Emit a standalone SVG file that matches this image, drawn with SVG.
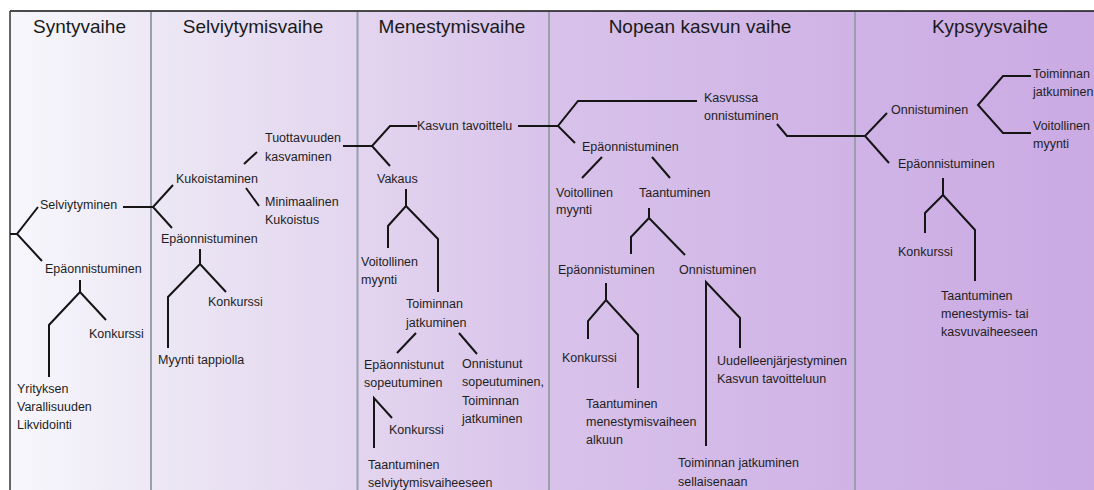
<svg xmlns="http://www.w3.org/2000/svg" width="1094" height="490" viewBox="0 0 1094 490">
<defs>
<linearGradient id="bg" x1="10" y1="0" x2="1094" y2="0" gradientUnits="userSpaceOnUse">
<stop offset="0" stop-color="#f8f7fc"/>
<stop offset="0.13" stop-color="#ece8f5"/>
<stop offset="0.32" stop-color="#e3d5ef"/>
<stop offset="0.50" stop-color="#d8c2ea"/>
<stop offset="0.78" stop-color="#cfb3e6"/>
<stop offset="1" stop-color="#cbaae3"/>
</linearGradient>
<style>
.t{font-family:"Liberation Sans",Arial,sans-serif;font-size:19px;fill:#1a1a1a;text-anchor:middle}
.l{font-family:"Liberation Sans",Arial,sans-serif;font-size:12.5px;fill:#1e1e1e}
.c{fill:none;stroke:#151515;stroke-width:2;stroke-linejoin:miter}
.d{stroke:#9a9fab;stroke-width:2}
</style>
</defs>
<rect width="1094" height="490" fill="#ffffff"/>
<rect x="10" y="11" width="1084" height="479" fill="url(#bg)"/>
<g id="frame">
<line x1="10" y1="11" x2="1094" y2="11" stroke="#111" stroke-width="1.5"/>
<line x1="10" y1="11" x2="10" y2="490" stroke="#333" stroke-width="1.5"/>
<line class="d" x1="151" y1="12" x2="151" y2="490"/>
<line class="d" x1="357.5" y1="12" x2="357.5" y2="490"/>
<line class="d" x1="549" y1="12" x2="549" y2="490"/>
<line class="d" x1="855" y1="12" x2="855" y2="490"/>
</g>
<g id="titles">
<text class="t" x="79.5" y="33">Syntyvaihe</text>
<text class="t" x="253" y="33">Selviytymisvaihe</text>
<text class="t" x="452" y="33">Menestymisvaihe</text>
<text class="t" x="700" y="33">Nopean kasvun vaihe</text>
<text class="t" x="990" y="33">Kypsyysvaihe</text>
</g>
<g id="connectors" class="c">
<path class="c" d="M10,234 H17 M38,207 L17,234 L42,261"/>
<path class="c" d="M123,207 H153 M173,185 L153,207 L172,228"/>
<path class="c" d="M80,280 V292 M49,377 V325 L80,292 L106,320"/>
<path class="c" d="M244,164 L257,152 M246,188 L259,206"/>
<path class="c" d="M200,249 V264 M168,348 V297 L200,264 L226,292"/>
<path class="c" d="M343,146 H372 M390,166 L372,146 L390,126 H417"/>
<path class="c" d="M518,126 H558 M575,143 L558,126 L578,101 H697"/>
<path class="c" d="M406,189 V206 M388,248 V226 L406,206 L438,239 V292"/>
<path class="c" d="M416,333 L397,353 M459,333 L477,354"/>
<path class="c" d="M392,418 L374,398 V448"/>
<path class="c" d="M777,124 L787,136 H865 M887,113 L865,136 L889,163"/>
<path class="c" d="M602,157 L582,178 M652,157 L670,178"/>
<path class="c" d="M649,208 V218 M631,254 V237 L649,218 L685,255"/>
<path class="c" d="M606,283 V300 M588,339 V321 L606,300 L638,335 V388"/>
<path class="c" d="M706,446 V282 L740,318 V348"/>
<path class="c" d="M1031,76 H1003 L978,105 L1003,133 H1031"/>
<path class="c" d="M943,178 V195 M925,233 V213 L943,195 L975,230 V281"/>
</g>
<g id="n-selviytyminen"><text class="l" x="40" y="209">Selviytyminen</text></g>
<g id="n-synty-epaonnistuminen"><text class="l" x="45" y="273">Epäonnistuminen</text></g>
<g id="n-synty-konkurssi"><text class="l" x="89" y="338">Konkurssi</text></g>
<g id="n-likvidointi"><text class="l" x="17" y="393">Yrityksen</text><text class="l" x="17" y="411">Varallisuuden</text><text class="l" x="17" y="429">Likvidointi</text></g>
<g id="n-kukoistaminen"><text class="l" x="176" y="183">Kukoistaminen</text></g>
<g id="n-tuottavuus"><text class="l" x="265" y="142">Tuottavuuden</text><text class="l" x="265" y="161">kasvaminen</text></g>
<g id="n-minimaalinen"><text class="l" x="265" y="206">Minimaalinen</text><text class="l" x="265" y="224">Kukoistus</text></g>
<g id="n-selv-epaonnistuminen"><text class="l" x="161" y="243">Epäonnistuminen</text></g>
<g id="n-selv-konkurssi"><text class="l" x="208" y="306">Konkurssi</text></g>
<g id="n-myynti-tappiolla"><text class="l" x="158" y="364">Myynti tappiolla</text></g>
<g id="n-kasvun-tavoittelu"><text class="l" x="417" y="130">Kasvun tavoittelu</text></g>
<g id="n-vakaus"><text class="l" x="377" y="183">Vakaus</text></g>
<g id="n-men-voitollinen"><text class="l" x="361" y="266">Voitollinen</text><text class="l" x="361" y="284">myynti</text></g>
<g id="n-men-toiminnan"><text class="l" x="406" y="308">Toiminnan</text><text class="l" x="406" y="327">jatkuminen</text></g>
<g id="n-epaonnistunut"><text class="l" x="364" y="369">Epäonnistunut</text><text class="l" x="364" y="387">sopeutuminen</text></g>
<g id="n-onnistunut"><text class="l" x="462" y="368">Onnistunut</text><text class="l" x="462" y="386">sopeutuminen,</text><text class="l" x="462" y="405">Toiminnan</text><text class="l" x="462" y="423">jatkuminen</text></g>
<g id="n-men-konkurssi"><text class="l" x="389" y="434">Konkurssi</text></g>
<g id="n-men-taantuminen"><text class="l" x="368" y="469">Taantuminen</text><text class="l" x="368" y="487">selviytymisvaiheeseen</text></g>
<g id="n-kasvussa"><text class="l" x="704" y="102">Kasvussa</text><text class="l" x="704" y="120">onnistuminen</text></g>
<g id="n-kasv-epaonnistuminen"><text class="l" x="582" y="151">Epäonnistuminen</text></g>
<g id="n-kasv-voitollinen"><text class="l" x="556" y="197">Voitollinen</text><text class="l" x="556" y="214">myynti</text></g>
<g id="n-kasv-taantuminen"><text class="l" x="639" y="197">Taantuminen</text></g>
<g id="n-kasv-epaonnistuminen2"><text class="l" x="558" y="274">Epäonnistuminen</text></g>
<g id="n-kasv-onnistuminen"><text class="l" x="679" y="274">Onnistuminen</text></g>
<g id="n-kasv-konkurssi"><text class="l" x="562" y="362">Konkurssi</text></g>
<g id="n-kasv-taantuminen2"><text class="l" x="586" y="408">Taantuminen</text><text class="l" x="586" y="426">menestymisvaiheen</text><text class="l" x="586" y="444">alkuun</text></g>
<g id="n-uudelleen"><text class="l" x="717" y="365">Uudelleenjärjestyminen</text><text class="l" x="717" y="383">Kasvun tavoitteluun</text></g>
<g id="n-sellaisenaan"><text class="l" x="678" y="467">Toiminnan jatkuminen</text><text class="l" x="678" y="486">sellaisenaan</text></g>
<g id="n-kyps-onnistuminen"><text class="l" x="891" y="114">Onnistuminen</text></g>
<g id="n-kyps-toiminnan"><text class="l" x="1033" y="78">Toiminnan</text><text class="l" x="1033" y="96">jatkuminen</text></g>
<g id="n-kyps-voitollinen"><text class="l" x="1033" y="130">Voitollinen</text><text class="l" x="1033" y="148">myynti</text></g>
<g id="n-kyps-epaonnistuminen"><text class="l" x="898" y="168">Epäonnistuminen</text></g>
<g id="n-kyps-konkurssi"><text class="l" x="898" y="256">Konkurssi</text></g>
<g id="n-kyps-taantuminen"><text class="l" x="941" y="300">Taantuminen</text><text class="l" x="941" y="318">menestymis- tai</text><text class="l" x="941" y="336">kasvuvaiheeseen</text></g>
</svg>
